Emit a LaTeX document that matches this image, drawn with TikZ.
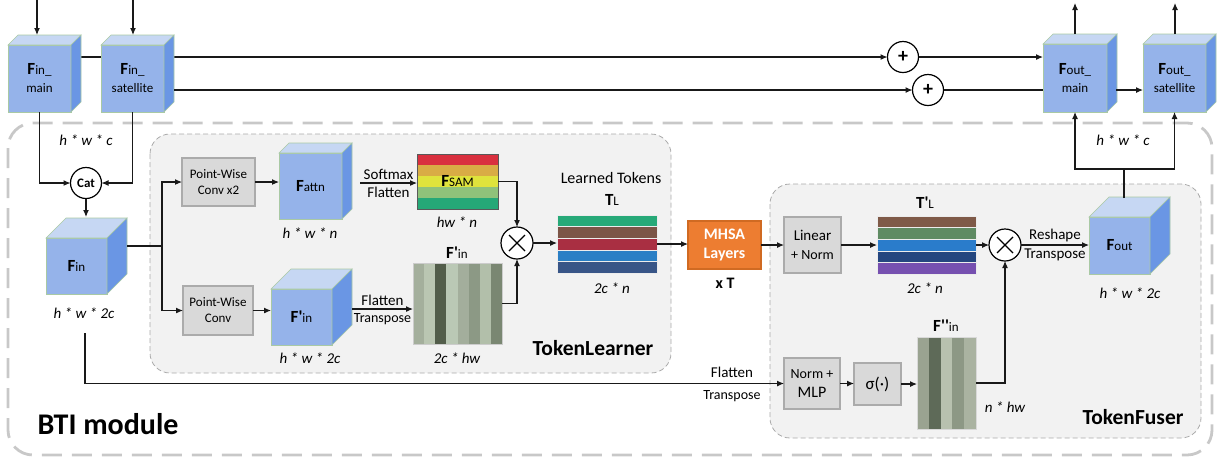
\documentclass[tikz,border=0pt]{standalone}
\usepackage{fontspec}
\setmainfont{Carlito}[Ligatures=TeXOff]
\usetikzlibrary{arrows.meta,calc}
\definecolor{cfront}{HTML}{95B3EA}
\definecolor{ctop}{HTML}{C6D7F3}
\definecolor{cside}{HTML}{6A96E4}
\definecolor{cedge}{HTML}{A9C9A4}
\definecolor{boxgray}{HTML}{D9D9D9}
\definecolor{boxedge}{HTML}{ABABAB}
\definecolor{panel}{HTML}{F2F2F2}
\definecolor{paneledge}{HTML}{ABABAB}
\definecolor{outeredge}{HTML}{C8C8C8}
\definecolor{mhsafill}{HTML}{ED7D31}
\definecolor{mhsaedge}{HTML}{D06A22}
% F_SAM stripes
\definecolor{sa}{HTML}{D9303F}
\definecolor{sb}{HTML}{D9AC45}
\definecolor{sc}{HTML}{DFE33C}
\definecolor{sd}{HTML}{8FC27A}
\definecolor{se}{HTML}{25A877}
% F'in columns
\definecolor{pa}{HTML}{A4AF9C}
\definecolor{pb}{HTML}{BAC6B2}
\definecolor{pc}{HTML}{525D4A}
\definecolor{pd}{HTML}{BAC8B5}
\definecolor{pe}{HTML}{A3AE9C}
\definecolor{pf}{HTML}{8C9985}
\definecolor{pg}{HTML}{B2BFAA}
\definecolor{ph}{HTML}{7A8772}
% T_L stripes
\definecolor{ta}{HTML}{27A978}
\definecolor{tb}{HTML}{7C5547}
\definecolor{tc}{HTML}{A92F42}
\definecolor{td}{HTML}{2A7FC5}
\definecolor{te}{HTML}{385587}
% T'_L stripes
\definecolor{ua}{HTML}{7F5A48}
\definecolor{ub}{HTML}{5F8B63}
\definecolor{uc}{HTML}{2A7CCB}
\definecolor{ud}{HTML}{24467F}
\definecolor{ue}{HTML}{7650B0}
% F''in columns
\definecolor{qa}{HTML}{9AA391}
\definecolor{qb}{HTML}{5E6A58}
\definecolor{qc}{HTML}{B8C1AF}
\definecolor{qd}{HTML}{8D9885}
\definecolor{qe}{HTML}{AAB3A1}
\newcommand\fsz[2]{\fontsize{#1}{#2}\selectfont}
\newcommand\mycube[6]{%
  \node[cubefront, minimum width={(#4-#2)*1pt}, minimum height={(#5-#3)*1pt}] (#1) at ({(#2+#4)/2},{(#3+#5)/2}) {};
  \filldraw[fill=ctop, draw=cedge, line width=0.6pt] (#1.north west) -- ++(#6,-#6) -- ([shift={(#6,-#6)}]#1.north east) -- (#1.north east) -- cycle;
  \filldraw[fill=cside, draw=cedge, line width=0.6pt] (#1.north east) -- ++(#6,-#6) -- ([shift={(#6,-#6)}]#1.south east) -- (#1.south east) -- cycle;
}
\newcommand\BF[2]{{\fsz{17}{20}\bfseries #1}{\fsz{13}{15}#2}}
\begin{document}
\begin{tikzpicture}[x=1pt,y=-1pt,
  line/.style={draw=black!90, line width=1.1pt},
  arr/.style={line, -{Latex[length=7pt,width=6pt]}},
  cubefront/.style={fill=cfront, draw=cedge, line width=0.6pt, inner sep=0pt, outer sep=0pt},
  graybox/.style={fill=boxgray, draw=boxedge, line width=1.3pt, inner sep=0pt, outer sep=0pt, align=center, font=\fsz{13}{16}},
  opcirc/.style={circle, draw=black, line width=1.2pt, fill=white, minimum size=31pt, inner sep=0pt, outer sep=0pt},
  dimtext/.style={font=\fsz{15}{18}\itshape, inner sep=0pt},
  lbl/.style={font=\fsz{15}{18}, inner sep=0pt},
  cubetext/.style={align=center, inner sep=0pt, font=\fsz{13}{18}},
  matrixbox/.style={inner sep=0pt, outer sep=0pt, draw=#1, line width=0.6pt},
]
\useasboundingbox (0,0) rectangle (1217,459);

% ---------- panels ----------
\draw[outeredge, line width=2.8pt, dash pattern=on 20pt off 10pt, rounded corners=25pt] (8,123) rectangle (1212,455);
\filldraw[fill=panel, draw=paneledge, line width=0.8pt, dash pattern=on 5pt off 3pt, rounded corners=20pt] (150,134) rectangle (671,373);
\filldraw[fill=panel, draw=paneledge, line width=0.8pt, dash pattern=on 5pt off 3pt, rounded corners=20pt] (770,184) rectangle (1201,438);
\node[font=\fsz{30}{34}\bfseries, inner sep=0pt] (bti) at (108,424) {BTI module};
\node[font=\fsz{21.5}{24}\bfseries, inner sep=0pt] (tlname) at (593,348) {TokenLearner};
\node[font=\fsz{21.5}{24}\bfseries, inner sep=0pt] (tfname) at (1133,417) {TokenFuser};

% ---------- top row ----------
\node[opcirc, font=\fsz{20}{20}\bfseries] (plus1) at (903,57) {+};
\node[opcirc, font=\fsz{20}{20}\bfseries] (plus2) at (928,90) {+};
\coordinate (mainR) at (81,57);
\coordinate (satR) at (174,90);
\draw[arr] (mainR) -- (plus1.west);
\mycube{finmain}{8}{45}{71}{112}{10}
\node[cubetext] at (finmain.center) {\BF{F}{in\_}\\main};
\mycube{finsat}{101}{45}{164}{112}{10}
\node[cubetext] at (finsat.center) {\BF{F}{in\_}\\satellite};
\draw[arr] (satR) -- (plus2.west);

\mycube{foutmain}{1043}{44}{1107}{112}{10}
\node[cubetext] at (foutmain.center) {\BF{F}{out\_}\\main};
\mycube{foutsat}{1143}{44}{1206}{112}{10}
\node[cubetext] at (foutsat.center) {\BF{F}{out\_}\\satellite};
\draw[arr] (plus1.east) -- (plus1 -| foutmain.west);
\draw[line] (plus2.east) -- (plus2 -| foutmain.west);
\coordinate (foutmainR) at (1116,90);
\draw[arr] (foutmainR) -- (foutmainR -| foutsat.west);

\coordinate (in1) at (37,0);
\coordinate (in1e) at (37,35);
\coordinate (in2) at (133,0);
\coordinate (in2e) at (133,35);
\draw[arr] (in1) -- (in1e);
\draw[arr] (in2) -- (in2e);
\coordinate (out1s) at (1075,34);
\coordinate (out1) at (1075,3);
\coordinate (out2s) at (1175,34);
\coordinate (out2) at (1175,3);
\draw[arr] (out1s) -- (out1);
\draw[arr] (out2s) -- (out2);

% ---------- Cat and Fin ----------
\node[opcirc, font=\fsz{13}{13}\bfseries] (cat) at (86,183) {Cat};
\draw[arr] (finmain.south) |- (cat.west);
\draw[arr] (finsat.south) |- (cat.east);
\node[dimtext] at (86,140) {h * w * c};
\mycube{fin}{46}{238}{107}{294}{20}
\node[cubetext] at (fin.center) {\BF{F}{in}};
\coordinate (fintop) at (86,217);
\draw[arr] (cat.south) -- (fintop);
\node[dimtext] at (84,313) {h * w * 2c};

% ---------- TokenLearner ----------
\node[graybox, minimum width=73pt, minimum height=48pt] (pwa) at (218.5,182) {Point-Wise\\Conv x2};
\node[graybox, minimum width=70pt, minimum height=49pt] (pwb) at (218,310.5) {Point-Wise\\Conv};
\coordinate (finR) at (127,246);
\coordinate (br) at (162,246);
\draw[line] (finR) -- (br);
\draw[arr] (br) |- (pwa.west);
\draw[arr] (br) |- (pwb.west);

\mycube{fattn}{279}{153}{342}{219}{10}
\node[cubetext] at (fattn.center) {\BF{F}{attn}};
\draw[arr] (pwa.east) -- (pwa.east -| fattn.west);
\node[dimtext] at (310,233) {h * w * n};

% F_SAM
\foreach \c [count=\i from 0] in {sa,sb,sc,sd,se}
  \fill[\c] (417,{154+\i*11}) rectangle ++(81,11);
\node[matrixbox=black!65, minimum width=81pt, minimum height=55pt] (fsam) at (457.5,181.5) {\BF{F}{SAM}};
\node[dimtext] at (457,222) {hw * n};
\coordinate (smS) at (360,183);
\draw[arr] (smS) -- (smS -| fsam.west) node[midway, above=3pt, lbl] {Softmax} node[midway, below=4pt, lbl] {Flatten};

\mycube{fpcube}{271}{289}{332}{345}{20}
\node[cubetext] at (fpcube.center) {\BF{F'}{in}};
\draw[arr] (pwb.east) -- (pwb.east -| fpcube.west);
\node[dimtext] at (310,358) {h * w * 2c};

% F'in matrix
\foreach \c [count=\i from 0] in {pa,pb,pc,pd,pe,pf,pg,ph}
  \fill[\c] ({413+\i*11.125},263) rectangle ++(11.125,81);
\node[matrixbox=black!20, minimum width=89pt, minimum height=81pt] (fpin) at (457.5,303.5) {};
\node[cubetext] at (457,253) {\BF{F'}{in}};
\node[dimtext] at (457,358) {2c * hw};
\coordinate (fpcR) at (352,309);
\draw[arr] (fpcR) -- (fpcR -| fpin.west) node[midway, above=3pt, lbl] {Flatten} node[midway, below=4pt, font=\fsz{14}{16}, inner sep=0pt] {Transpose};

\node[circle, draw=black, line width=1.2pt, fill=white, minimum size=32pt, inner sep=0pt, outer sep=0pt] (times1) at (517,243) {};
\draw[line width=1.2pt] ([shift={(-8,-8)}]times1.center) -- ([shift={(8,8)}]times1.center);
\draw[line width=1.2pt] ([shift={(-8,8)}]times1.center) -- ([shift={(8,-8)}]times1.center);
\draw[arr] (fsam.east) -| (times1.north);
\draw[arr] (fpin.east) -| (times1.south);

% T_L
\foreach \c [count=\i from 0] in {ta,tb,tc,td,te}
  \filldraw[fill=\c, draw=white!85!gray, line width=0.5pt] (557,{215+\i*11.6}) rectangle ++(100,11.6);
\node[inner sep=0pt, outer sep=0pt, minimum width=100pt, minimum height=58pt] (tl) at (607,244) {};
\node[font=\fsz{16}{18}, inner sep=0pt] at (611,178) {Learned Tokens};
\node[cubetext] at (612,200) {\BF{T}{L}};
\node[dimtext] at (612,288) {2c * n};
\draw[arr] (times1.east) -- (times1 -| tl.west);

% ---------- MHSA ----------
\node[fill=mhsafill, draw=mhsaedge, line width=1.2pt, minimum width=73pt, minimum height=48pt, inner sep=0pt, outer sep=0pt, align=center, text=white, font=\fsz{16}{19}\bfseries] (mhsa) at (724.5,245) {MHSA\\Layers};
\node[font=\fsz{16}{18}\bfseries, inner sep=0pt] at (725,283) {x T};
\draw[arr] (tl.east) -- (tl.east -| mhsa.west);

% ---------- TokenFuser ----------
\node[graybox, minimum width=57pt, minimum height=56pt, font=\fsz{15}{19}] (lin) at (812.5,245) {Linear\\{\fsz{14}{16}+ Norm}};
\draw[arr] (mhsa.east) -- (mhsa.east -| lin.west);

\foreach \c [count=\i from 0] in {ua,ub,uc,ud,ue}
  \filldraw[fill=\c, draw=white!85!gray, line width=0.5pt] (877,{216+\i*11.6}) rectangle ++(99,11.6);
\node[inner sep=0pt, outer sep=0pt, minimum width=99pt, minimum height=58pt] (tpl) at (926.5,245) {};
\node[cubetext] at (925,203) {\BF{T'}{L}};
\node[dimtext] at (925,288) {2c * n};
\draw[arr] (lin.east) -- (lin.east -| tpl.west);

\node[circle, draw=black, line width=1.2pt, fill=white, minimum size=32pt, inner sep=0pt, outer sep=0pt] (times2) at (1005,245) {};
\draw[line width=1.2pt] ([shift={(-8,-8)}]times2.center) -- ([shift={(8,8)}]times2.center);
\draw[line width=1.2pt] ([shift={(-8,8)}]times2.center) -- ([shift={(8,-8)}]times2.center);
\draw[arr] (tpl.east) -- (times2.west);

\mycube{fout}{1089}{217}{1150}{274}{20}
\node[cubetext] at (fout.center) {\BF{F}{out}};
\draw[arr] (times2.east) -- (times2 -| fout.west) node[midway, above=3pt, lbl] {Reshape} node[midway, below=3pt, lbl] {Transpose};
\node[dimtext] at (1130,293) {h * w * 2c};

\coordinate (fouttop) at (1124,198);
\coordinate (split) at (1124,169);
\draw[line] (fouttop) -- (split);
\draw[arr] (split) -| (foutmain.south);
\draw[arr] (split) -| (foutsat.south);
\node[dimtext] at (1123,140) {h * w * c};

% bottom path
\node[graybox, minimum width=56pt, minimum height=51pt, font=\fsz{14}{19}] (nmlp) at (812,383.5) {Norm +\\{\fsz{16}{18}MLP}};
\node[graybox, minimum width=47pt, minimum height=42pt, font=\fsz{17}{19}] (sig) at (877.5,384) {σ(·)};
\coordinate (finlow) at (85,333);
\draw[arr] (finlow) |- (nmlp.west);
\node[lbl] at (732,372) {Flatten};
\node[font=\fsz{14}{16}, inner sep=0pt] at (732,396) {Transpose};
\draw[arr] (nmlp.east) -- (nmlp.east -| sig.west);

\foreach \c [count=\i from 0] in {qa,qb,qc,qd,qe}
  \fill[\c] ({917+\i*11.8},337) rectangle ++(11.8,92);
\node[matrixbox=black!15, minimum width=59pt, minimum height=92pt] (fppin) at (946.5,383) {};
\node[cubetext] at (946,326) {\BF{F''}{in}};
\node[dimtext] at (1005,407) {n * hw};
\draw[arr] (sig.east) -- (sig.east -| fppin.west);
\draw[arr] (fppin.east) -| (times2.south);

\end{tikzpicture}
\end{document}
